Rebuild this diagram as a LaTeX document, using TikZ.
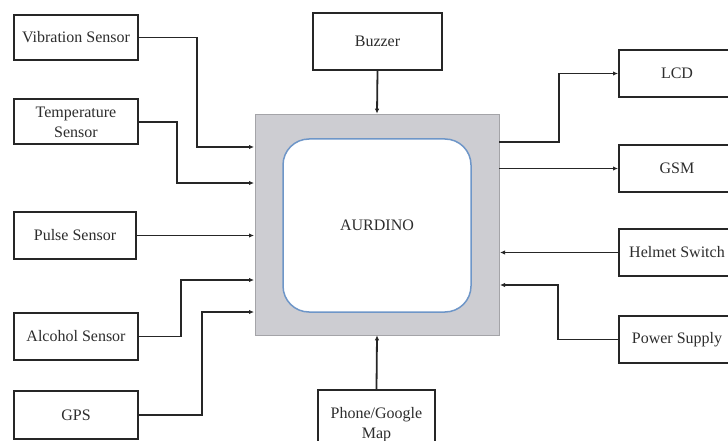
\documentclass[tikz,border=0pt]{standalone}
\usepackage{fontspec}
\setmainfont{Liberation Serif}
\usetikzlibrary{arrows.meta}
\definecolor{boxgray}{RGB}{205,205,210}
\definecolor{innerblue}{RGB}{110,150,200}
\definecolor{txt}{RGB}{45,45,45}
\tikzset{
  blk/.style={draw=black!85, line width=2pt, fill=white, inner sep=2pt, align=center,
    text=txt, font=\fontsize{16}{20}\selectfont},
  conn/.style={line width=1.8pt, draw=black!85, -{Latex[length=5pt,width=4.5pt]}},
}
\begin{document}
\begin{tikzpicture}[x=1pt,y=-1pt]
\useasboundingbox (0,0) rectangle (728,441);
\clip (0,0) rectangle (728,441);
% central block
\node[fill=boxgray, draw=boxgray!80!black, line width=0.6pt, minimum width=244pt, minimum height=221pt, inner sep=0pt] (ard) at (377,224.5) {};
\node[draw=innerblue, fill=white, line width=1.5pt, rounded corners=26pt, minimum width=188pt, minimum height=173pt, inner sep=0pt,
  text=txt, font=\fontsize{16}{17}\selectfont] (core) at (377,225.5) {AURDINO};
% left boxes
\node[blk, minimum width=124pt, minimum height=45pt] (vib) at (76,37.5) {Vibration Sensor};
\node[blk, minimum width=124pt, minimum height=45pt] (temp) at (76,122) {Temperature\\Sensor};
\node[blk, minimum width=122pt, minimum height=47pt] (pulse) at (75,235.5) {Pulse Sensor};
\node[blk, minimum width=124pt, minimum height=47pt] (alc) at (76,336.5) {Alcohol Sensor};
\node[blk, minimum width=124pt, minimum height=48pt] (gps) at (76,415) {GPS};
% top / bottom
\node[blk, minimum width=129pt, minimum height=57pt] (buz) at (377.5,41.5) {Buzzer};
\node[blk, minimum width=117pt, minimum height=70pt] (phone) at (376.5,425) {Phone/Google\\Map};
% right boxes
\node[blk, minimum width=116pt, minimum height=47pt] (lcd) at (677,73.5) {LCD};
\node[blk, minimum width=116pt, minimum height=47pt] (gsm) at (677,168.5) {GSM};
\node[blk, minimum width=116pt, minimum height=47pt] (helm) at (677,252.5) {Helmet Switch};
\node[blk, minimum width=116pt, minimum height=47pt] (pow) at (677,339.5) {Power Supply};
% ports on the central block
\coordinate (inV) at (254,147);
\coordinate (inT) at (254,183);
\coordinate (inP) at (254,235.5);
\coordinate (inA) at (254,280);
\coordinate (inG) at (254,312);
\coordinate (outL) at (499,142);
\coordinate (outG) at (499,168.5);
\coordinate (inH) at (500,252.5);
\coordinate (inPw) at (500,285);
% connectors
\draw[conn] (vib.east) -- ++(58,0) |- (inV);
\draw[conn] (temp.east) -- ++(38,0) |- (inT);
\draw[conn] (pulse.east) -- (inP);
\draw[conn] (alc.east) -- ++(42,0) |- (inA);
\draw[conn] (gps.east) -- ++(63,0) |- (inG);
\draw[conn] (buz.south) -- (ard.north);
\draw[conn] (phone.north) -- (ard.south);
\draw[conn] (outL) -- ++(60,0) |- (lcd.west);
\draw[conn] (outG) -- (gsm.west);
\draw[conn] (helm.west) -- (inH);
\draw[conn] (pow.west) -- ++(-60,0) |- (inPw);
\end{tikzpicture}
\end{document}
